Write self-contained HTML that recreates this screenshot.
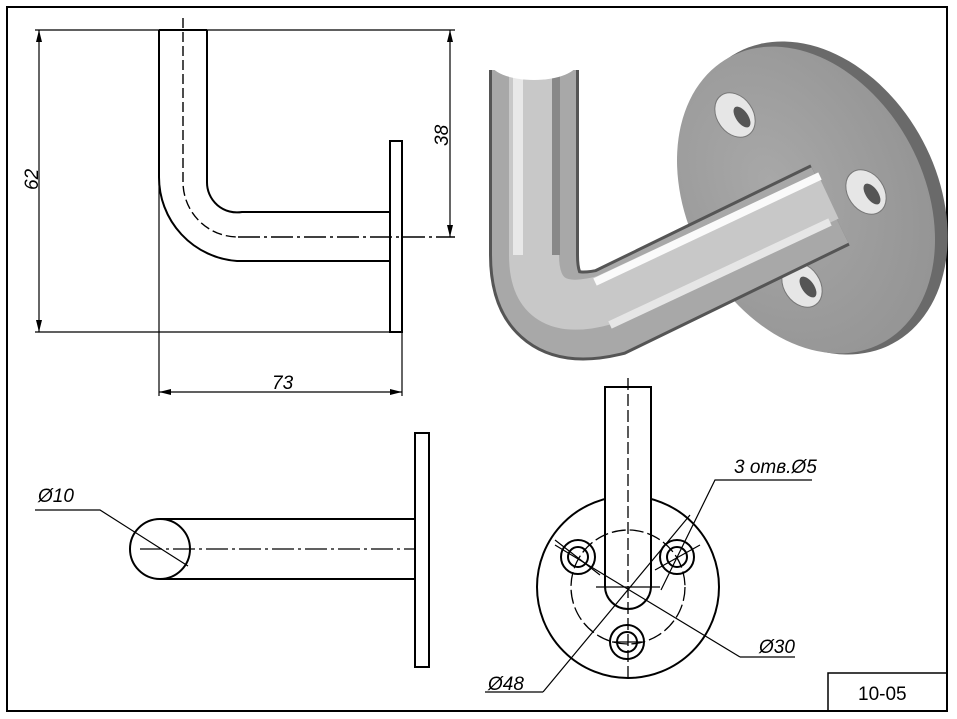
<!DOCTYPE html>
<html><head><meta charset="utf-8"><style>
html,body{margin:0;padding:0;background:#fff}
svg{display:block}
text{font-family:"Liberation Sans",sans-serif;font-style:italic;font-size:19px;fill:#000}
</style></head><body>
<svg width="957" height="719" viewBox="0 0 957 719" xmlns="http://www.w3.org/2000/svg">
<defs>
<linearGradient id="tg" x1="0" x2="1" y1="0" y2="0">
<stop offset="0" stop-color="#666"/><stop offset="0.25" stop-color="#d8d8d8"/><stop offset="0.5" stop-color="#999"/><stop offset="0.75" stop-color="#e8e8e8"/><stop offset="1" stop-color="#777"/></linearGradient>
<radialGradient id="pg" cx="0.4" cy="0.4" r="0.7"><stop offset="0" stop-color="#a8a8a8"/><stop offset="1" stop-color="#939393"/></radialGradient>
</defs>
<g fill="none" stroke="#000">
<rect x="7" y="7" width="940" height="704" stroke-width="2"/>
<rect x="828" y="673" width="119" height="38" stroke-width="1.5"/>
<g stroke-width="2">
<path d="M159 30 V177 A84 84 0 0 0 237 261 H390"/>
<path d="M207 30 V182 A30 30 0 0 0 242 212 H390"/>
<line x1="159" y1="30" x2="207" y2="30"/>
<rect x="390" y="141" width="12" height="191"/>
</g>
<path d="M183 18 V182 A55 55 0 0 0 238 237" stroke-dasharray="10,4" stroke-width="1.4"/>
<path d="M238 237 H455" stroke-dasharray="22,4,3,4" stroke-width="1.4"/>
<g stroke-width="1.2">
<line x1="35" y1="30" x2="455" y2="30"/>
<line x1="35" y1="332" x2="390" y2="332"/>
<line x1="39" y1="30" x2="39" y2="332"/>
<line x1="450" y1="30" x2="450" y2="237"/>
<line x1="159" y1="177" x2="159" y2="396"/>
<line x1="402" y1="332" x2="402" y2="396"/>
<line x1="159" y1="392" x2="402" y2="392"/>
</g>
<g stroke-width="2">
<circle cx="160" cy="549" r="30"/>
<line x1="160" y1="519" x2="415" y2="519"/>
<line x1="160" y1="579" x2="415" y2="579"/>
<rect x="415" y="433" width="14" height="234"/>
</g>
<path d="M140 549 H415" stroke-dasharray="22,4,3,4" stroke-width="1.3"/>
<path d="M35 510 H100 L188 566" stroke-width="1.2"/>
<g stroke-width="2">
<circle cx="628" cy="587" r="91"/>
<path d="M605 387 V586 A23 23 0 0 0 651 586 V387 Z" fill="#fff"/>
<circle cx="578" cy="557" r="17"/><circle cx="578" cy="557" r="10"/>
<circle cx="677" cy="557" r="17"/><circle cx="677" cy="557" r="10"/>
<circle cx="627" cy="642" r="17"/><circle cx="627" cy="642" r="10"/>
</g>
<circle cx="628" cy="587" r="57" stroke-dasharray="14,4" stroke-width="1.3"/>
<line x1="628" y1="378" x2="628" y2="680" stroke-dasharray="12,4" stroke-width="1.3"/>
<line x1="596" y1="587" x2="660" y2="587" stroke-width="1.3"/>
<line x1="555" y1="545" x2="740" y2="657" stroke-width="1.2"/>
<path d="M740 657 H795" stroke-width="1.2"/>
<line x1="543" y1="692" x2="690" y2="515" stroke-width="1.2"/>
<path d="M485 692 H543" stroke-width="1.2"/>
<path d="M812 480 H715 L661 590" stroke-width="1.2"/>
<line x1="655" y1="570" x2="700" y2="545" stroke-width="1.2"/>
<line x1="555" y1="540" x2="600" y2="575" stroke-width="1.2"/>
<line x1="612" y1="642" x2="642" y2="642" stroke-width="1.2"/>
</g>
<g fill="#000">
<path d="M39 30 l-3 12 h6z"/><path d="M39 332 l-3 -12 h6z"/>
<path d="M450 30 l-3 12 h6z"/><path d="M450 237 l-3 -12 h6z"/>
<path d="M159 392 l12 -3 v6z"/><path d="M402 392 l-12 -3 v6z"/>
</g>
<text x="272" y="389">73</text>
<text transform="translate(38,190) rotate(-90)">62</text>
<text transform="translate(448,146) rotate(-90)">38</text>
<text x="38" y="502" font-size="20">Ø10</text>
<text x="734" y="473" font-size="17">3 отв.Ø5</text>
<text x="759" y="653">Ø30</text>
<text x="488" y="690">Ø48</text>
<text x="858" y="700" style="font-style:normal" font-size="19">10-05</text>
<g>
<ellipse cx="815" cy="198" rx="122" ry="165" transform="rotate(-28 815 198)" fill="#6a6a6a"/>
<ellipse cx="806" cy="200" rx="118" ry="162" transform="rotate(-28 806 200)" fill="url(#pg)"/>
<g fill="#e6e6e6" stroke="#777">
<ellipse cx="735" cy="115" rx="18" ry="24" transform="rotate(-35 735 115)"/>
<ellipse cx="866" cy="192" rx="18" ry="24" transform="rotate(-35 866 192)"/>
<ellipse cx="802" cy="285" rx="18" ry="24" transform="rotate(-35 802 285)"/>
</g>
<g fill="#555">
<ellipse cx="742" cy="117" rx="6" ry="12" transform="rotate(-35 742 117)"/>
<ellipse cx="872" cy="194" rx="6" ry="12" transform="rotate(-35 872 194)"/>
<ellipse cx="808" cy="287" rx="6" ry="12" transform="rotate(-35 808 287)"/>
</g>
<path d="M534 70 V255 Q534 330 610 312 L830 205" stroke="#555" stroke-width="90" fill="none"/>
<path d="M534 70 V255 Q534 330 610 312 L830 205" stroke="#a8a8a8" stroke-width="84" fill="none"/>
<path d="M534 70 V255 Q534 320 605 300 L828 196" stroke="#c8c8c8" stroke-width="50" fill="none"/>
<path d="M518 70 V255" stroke="#e8e8e8" stroke-width="10" fill="none"/>
<path d="M556 70 V255" stroke="#888" stroke-width="8" fill="none"/>
<path d="M595 282 L820 176" stroke="#fafafa" stroke-width="8" fill="none"/>
<path d="M610 325 L830 222" stroke="#e6e6e6" stroke-width="8" fill="none"/>
<ellipse cx="534" cy="62" rx="44" ry="18" fill="#fff"/>
</g>
</svg>
</body></html>
